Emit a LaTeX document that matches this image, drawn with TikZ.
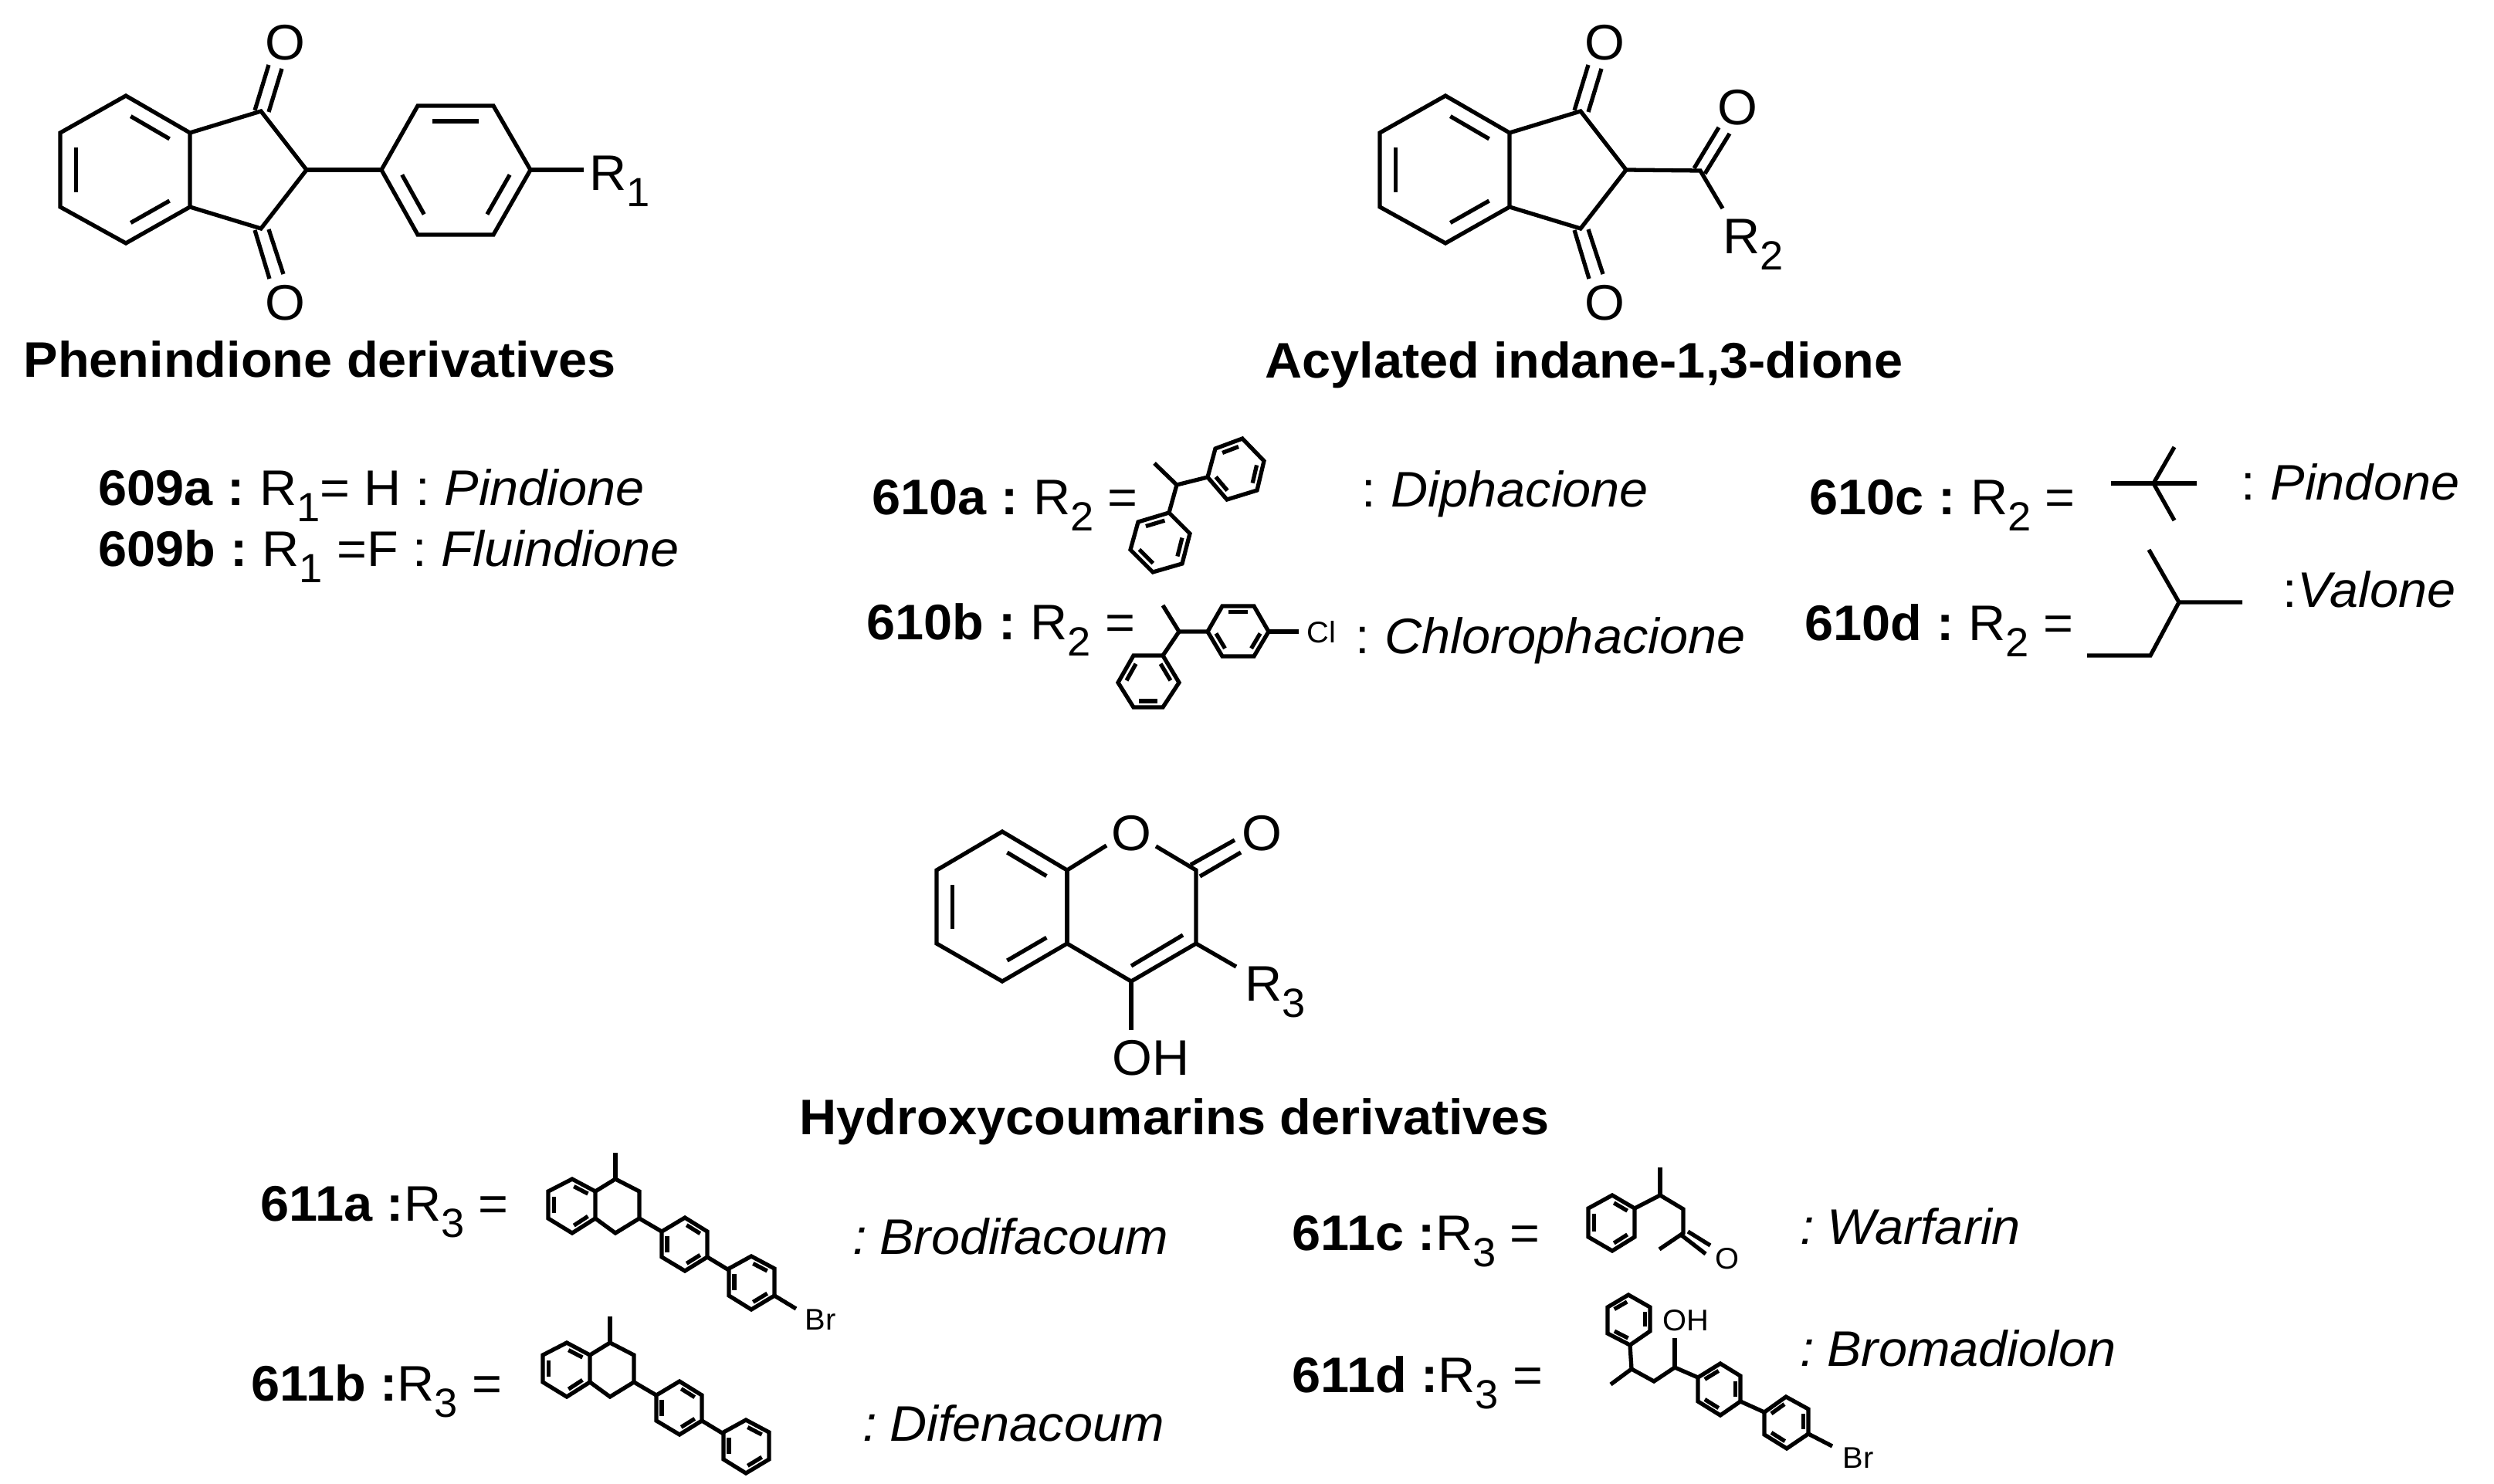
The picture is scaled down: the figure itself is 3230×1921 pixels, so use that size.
\documentclass[tikz,border=0pt]{standalone}
\usepackage{fontspec}
\setmainfont[FakeStretch=1.03]{Liberation Sans}
\usetikzlibrary{calc}

\newcommand{\subidx}[1]{\raisebox{-.32em}{\fontsize{15}{15}\selectfont #1}}
\newcommand{\nsp}{\hspace{.3em}}
\newcommand{\nspi}{\hspace{.25em}}

% six corners of a ring, double bonds on 1-2, 3-4 and 5-6
\newcommand{\benzring}[6]{
  \coordinate (v1) at #1; \coordinate (v2) at #2; \coordinate (v3) at #3;
  \coordinate (v4) at #4; \coordinate (v5) at #5; \coordinate (v6) at #6;
  \draw[bond] (v1) -- (v2) -- (v3) -- (v4) -- (v5) -- (v6) -- cycle;
  \foreach \pa/\pb/\qa/\qb in {v1/v2/v4/v5,v3/v4/v6/v1,v5/v6/v2/v3}{
    \coordinate (in1) at ($(\pa)!.12!(\qa)$);
    \coordinate (in2) at ($(\pb)!.12!(\qb)$);
    \draw[bond] ($(in1)!.1!(in2)$) -- ($(in2)!.1!(in1)$);
  }
}

% benzene ring, five-ring and both C=O
\newcommand{\indanedione}[2]{
  \begin{scope}[shift={#2},name prefix=#1-]
    \benzring{(163,124)}{(246,172)}{(246,268)}{(163,315)}{(78,268)}{(78,172)}
    \coordinate (c1) at (338,144);
    \coordinate (c2) at (397,220);
    \coordinate (c3) at (338,296);
    \draw[bond] (246,172) -- (c1) -- (c2) -- (c3) -- (246,268);
    \node[atombig] (otop) at (369,55) {O};
    \node[atombig] (obot) at (369,392) {O};
    \draw[bond] (330,143) -- (348,84);
    \draw[bond] (348,145) -- (365,89);
    \draw[bond] (330,298) -- (349,361);
    \draw[bond] (348,297) -- (367,355);
  \end{scope}
}

% tetralin with methyl and the first aryl ring
\newcommand{\tetralinaryl}{
  \benzring{(741,1527)}{(771,1543)}{(771,1578)}{(741,1597)}{(710,1578)}{(710,1543)}
  \draw[bond] (797,1493) -- (797,1527);
  \draw[bond] (771,1543) -- (797,1527) -- (828,1543) -- (828,1578) -- (797,1597) -- (771,1578);
  \draw[bond] (828,1578) -- (857,1595);
  \benzring{(887,1577)}{(916,1595)}{(916,1628)}{(887,1646)}{(857,1628)}{(857,1595)}
  \draw[bond] (916,1628) -- (944,1645);
  \benzring{(973,1627)}{(1003,1643)}{(1003,1678)}{(973,1696)}{(944,1678)}{(944,1643)}
}

\begin{document}
\begin{tikzpicture}[x=0.01cm,y=-0.01cm,
    bond/.style={line width=1.5pt},
    txt/.style={anchor=base west,inner sep=0pt,yshift=-.5pt,font=\fontsize{18.4}{21}\selectfont},
    ttl/.style={txt,font=\fontsize{18.4}{21}\selectfont\bfseries},
    atombig/.style={inner sep=0pt,font=\fontsize{18.4}{21}\selectfont},
    atomsmall/.style={anchor=base west,inner sep=0pt,font=\fontsize{11}{12}\selectfont}]
  \useasboundingbox (0,0) rectangle (3230,1921);

  % Phenindione
  \indanedione{phen}{(0,0)}
  \node[txt] (rone) at (763,245) {R\subidx{1}};
  \draw[bond] (phen-c2) -- (494,220);
  \benzring{(541,137)}{(639,137)}{(687,220)}{(639,304)}{(541,304)}{(494,220)}
  \draw[bond] (687,220) -- (756,220);
  \node[ttl] (phentitle) at (30,487) {Phenindione derivatives};
  \node[txt] (lbl609a) at (127,653) {\textbf{609a :}\nsp R\subidx{1}= H : \textit{Pindione}};
  \node[txt] (lbl609b) at (127,732) {\textbf{609b :}\nsp R\subidx{1} =F : \textit{Fluindione}};

  % Acylated indane-1,3-dione
  \indanedione{acyl}{(1709,0)}
  \coordinate (cside) at (2202,221);
  \draw[bond] (acyl-c2) -- (cside) -- (2231,270);
  \draw[bond] (2194,218) -- (2226,165);
  \draw[bond] (2208,225) -- (2240,173);
  \node[atombig] (oside) at (2250,139) {O};
  \node[txt] (rtwo) at (2231,327) {R\subidx{2}};
  \node[ttl] (acyltitle) at (1638,488) {Acylated indane-1,3-dione};

  % 610a
  \node[txt] (lbl610a) at (1129,665) {\textbf{610a :}\nsp R\subidx{2} =};
  \draw[bond] (1495,600) -- (1524,628) -- (1564,618);
  \draw[bond] (1524,628) -- (1514,664);
  \benzring{(1574,581)}{(1609,568)}{(1637,597)}{(1628,635)}{(1589,647)}{(1564,618)}
  \benzring{(1474,676)}{(1514,664)}{(1541,691)}{(1531,730)}{(1493,741)}{(1464,712)}
  \node[txt] (name610a) at (1763,655) {:\nsp\textit{Diphacione}};

  % 610b
  \node[txt] (lbl610b) at (1122,827) {\textbf{610b :}\nsp R\subidx{2} =};
  \draw[bond] (1506,784) -- (1527,818) -- (1564,818);
  \draw[bond] (1527,818) -- (1506,849);
  \benzring{(1583,785)}{(1624,785)}{(1643,818)}{(1624,850)}{(1583,850)}{(1564,818)}
  \benzring{(1468,849)}{(1448,884)}{(1468,916)}{(1506,916)}{(1527,884)}{(1506,849)}
  \node[atomsmall] (cl) at (1692,832) {Cl};
  \draw[bond] (1643,818) -- (1682,818);
  \node[txt] (name610b) at (1755,845) {:\nsp\textit{Chlorophacione}};

  % 610c
  \node[txt] (lbl610c) at (2343,665) {\textbf{610c :}\nsp R\subidx{2} =};
  \draw[bond] (2734,626) -- (2845,626);
  \draw[bond] (2816,579) -- (2789,626) -- (2816,674);
  \node[txt] (name610c) at (2902,646) {:\nsp\textit{Pindone}};

  % 610d
  \node[txt] (lbl610d) at (2337,828) {\textbf{610d :}\nsp R\subidx{2} =};
  \draw[bond] (2783,712) -- (2822,780) -- (2904,780);
  \draw[bond] (2822,780) -- (2785,849) -- (2703,849);
  \node[txt] (name610d) at (2956,785) {:\textit{Valone}};

  % Hydroxycoumarin
  \benzring{(1298,1077)}{(1382,1127)}{(1382,1222)}{(1298,1271)}{(1213,1222)}{(1213,1127)}
  \node[atombig] (oring) at (1465,1079) {O};
  \node[atombig] (ocarb) at (1634,1079) {O};
  \coordinate (ctwo) at (1549,1127);
  \coordinate (cthree) at (1549,1222);
  \coordinate (cfour) at (1465,1271);
  \draw[bond] (1382,1127) -- (1433,1095);
  \draw[bond] (1497,1096) -- (ctwo) -- (cthree) -- (cfour) -- (1382,1222);
  \draw[bond] (1382,1127) -- (1382,1222);
  \draw[bond] (1532,1211) -- (1465,1251);
  \draw[bond] (1542,1120) -- (1599,1088);
  \draw[bond] (1554,1135) -- (1607,1104);
  \node[txt] (rthree) at (1612,1295) {R\subidx{3}};
  \node[txt] (ohring) at (1440,1391) {OH};
  \draw[bond] (cthree) -- (1601,1252);
  \draw[bond] (cfour) -- (1465,1334);
  \node[ttl] (coumtitle) at (1035,1468) {Hydroxycoumarins derivatives};

  % 611a
  \node[txt] (lbl611a) at (337,1580) {\textbf{611a :}R\subidx{3} =};
  \tetralinaryl
  \node[atomsmall] (bra) at (1042,1722) {Br};
  \draw[bond] (1003,1678) -- (1031,1695);
  \node[txt] (name611a) at (1104,1623) {\textit{:\nspi Brodifacoum}};

  % 611b
  \node[txt] (lbl611b) at (325,1813) {\textbf{611b :}R\subidx{3} =};
  \begin{scope}[shift={(-7,212)}]
    \tetralinaryl
  \end{scope}
  \node[txt] (name611b) at (1117,1865) {\textit{:\nspi Difenacoum}};

  % 611c
  \node[txt] (lbl611c) at (1673,1618) {\textbf{611c :}R\subidx{3} =};
  \benzring{(2088,1548)}{(2117,1565)}{(2117,1602)}{(2088,1620)}{(2057,1602)}{(2057,1565)}
  \draw[bond] (2150,1512) -- (2150,1548);
  \draw[bond] (2117,1565) -- (2150,1548) -- (2180,1566) -- (2180,1597) -- (2149,1618);
  \draw[bond] (2186,1595) -- (2215,1613);
  \draw[bond] (2178,1600) -- (2209,1624);
  \node[atomsmall,anchor=center] (owarf) at (2237,1630) {O};
  \node[txt] (name611c) at (2331,1610) {\textit{:\nspi Warfarin}};

  % 611d
  \node[txt] (lbl611d) at (1673,1802) {\textbf{611d :}R\subidx{3} =};
  \benzring{(2109,1677)}{(2082,1693)}{(2082,1727)}{(2111,1742)}{(2137,1724)}{(2137,1693)}
  \draw[bond] (2111,1742) -- (2113,1773) -- (2142,1789) -- (2169,1771) -- (2199,1784);
  \draw[bond] (2113,1773) -- (2086,1793);
  \draw[bond] (2169,1771) -- (2169,1733);
  \node[atomsmall] (ohd) at (2153,1723) {OH};
  \benzring{(2199,1784)}{(2228,1766)}{(2254,1782)}{(2254,1815)}{(2228,1833)}{(2199,1815)}
  \draw[bond] (2254,1815) -- (2285,1829);
  \benzring{(2285,1829)}{(2313,1809)}{(2342,1825)}{(2342,1857)}{(2314,1876)}{(2285,1858)}
  \draw[bond] (2342,1857) -- (2373,1873);
  \node[atomsmall] (brd) at (2386,1901) {Br};
  \node[txt] (name611d) at (2331,1768) {\textit{:\nspi Bromadiolon}};
\end{tikzpicture}
\end{document}
